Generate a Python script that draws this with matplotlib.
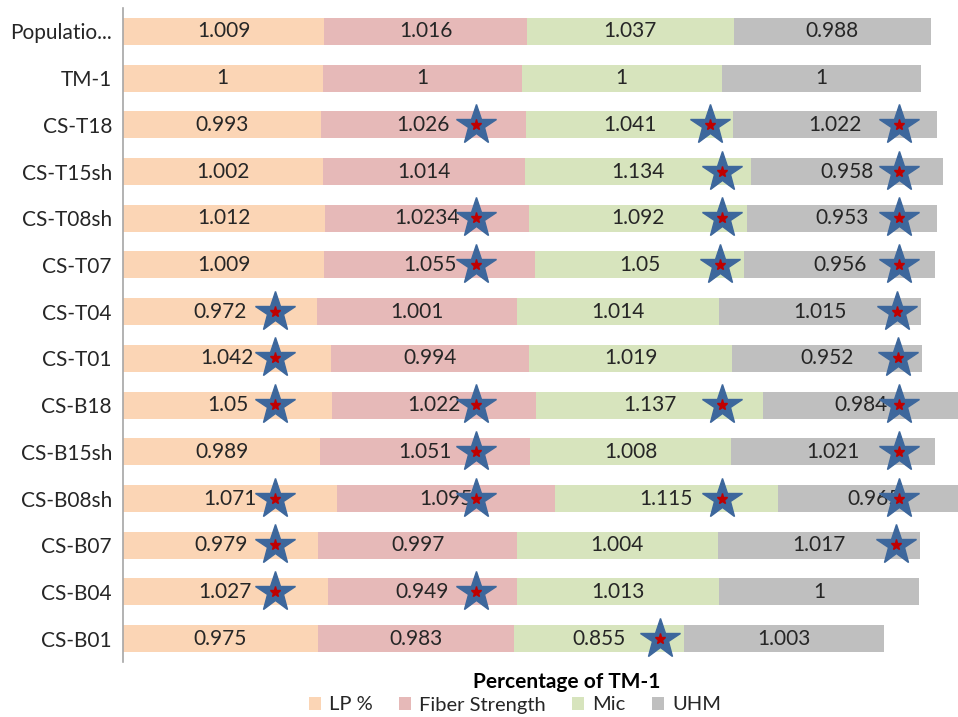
import numpy as np
import matplotlib.pyplot as plt

plt.rcParams["font.family"] = ["Lato", "DejaVu Sans"]

lines = ["Populatio...", "TM-1", "CS-T18", "CS-T15sh", "CS-T08sh", "CS-T07", "CS-T04",
         "CS-T01", "CS-B18", "CS-B15sh", "CS-B08sh", "CS-B07", "CS-B04", "CS-B01"]

lp = [1.009, 1, 0.993, 1.002, 1.012, 1.009, 0.972, 1.042, 1.05, 0.989, 1.071, 0.979, 1.027, 0.975]
fiber = [1.016, 1, 1.026, 1.014, 1.0234, 1.055, 1.001, 0.994, 1.022, 1.051, 1.095, 0.997, 0.949, 0.983]
mic = [1.037, 1, 1.041, 1.134, 1.092, 1.05, 1.014, 1.019, 1.137, 1.008, 1.115, 1.004, 1.013, 0.855]
uhm = [0.988, 1, 1.022, 0.958, 0.953, 0.956, 1.015, 0.952, 0.984, 1.021, 0.965, 1.017, 1, 1.003]

# significant differences from TM-1 (1 = marked with a star)
sig_lp = [0, 0, 0, 0, 0, 0, 1, 1, 1, 0, 1, 1, 1, 0]
sig_fiber = [0, 0, 1, 0, 1, 1, 0, 0, 1, 1, 1, 0, 1, 0]
sig_mic = [0, 0, 1, 1, 1, 1, 0, 0, 1, 0, 1, 0, 0, 1]
sig_uhm = [0, 0, 1, 1, 1, 1, 1, 1, 1, 1, 1, 1, 0, 0]

series = [("LP %", lp, "#fbd5b5", sig_lp),
          ("Fiber Strength", fiber, "#e6b9b8", sig_fiber),
          ("Mic", mic, "#d7e4bd", sig_mic),
          ("UHM", uhm, "#bfbfbf", sig_uhm)]
star_col = [0.76, 1.77, 3.0, 3.89]

fig = plt.figure(figsize=(9.58, 7.17), dpi=100)
ax = fig.add_axes([123 / 958, 0.0767, 1 - 123 / 958, 0.9121])

y = np.arange(len(lines))
left = np.zeros(len(lines))
for i, (name, vals, color, sig) in enumerate(series):
    vals = np.array(vals, dtype=float)
    ax.barh(y, vals, left=left, height=0.58, color=color, label=name)
    for j, v in enumerate(vals):
        ax.text(left[j] + v / 2, y[j], f"{v:g}", ha="center", va="center",
                fontsize=15, color="#262626")
    for j in np.flatnonzero(sig):
        sx = min(star_col[i], left[j] + vals[j] - 0.12)
        ax.plot(sx, y[j], marker="*", ms=30, color="#3d679c", mec="#3d679c", zorder=5)
        ax.plot(sx, y[j], marker="*", ms=8, color="#c00000", mec="#c00000", zorder=6)
    left += vals

ax.set_xlim(0, 835 / 199.5)
ax.set_ylim(len(lines) - 0.5, -0.5)
ax.set_yticks(y, lines)
ax.tick_params(axis="y", length=0, labelsize=15, labelcolor="#262626", pad=8)
ax.set_xticks([])
for s in ["top", "right", "bottom"]:
    ax.spines[s].set_visible(False)
ax.spines["left"].set_color("#a6a6a6")
ax.spines["left"].set_linewidth(1.2)

fig.text(567 / 958, 1 - 682 / 717, "Percentage of TM-1", ha="center", va="center",
         fontsize=15, fontweight="bold", color="#000000")
fig.legend(loc="center", bbox_to_anchor=(515 / 958, 1 - 705 / 717), ncol=4, frameon=False,
           fontsize=14.5, handlelength=0.6, handleheight=0.6, handletextpad=0.4,
           columnspacing=1.3, borderpad=0.1, labelcolor="#262626")

fig.savefig("out.png", dpi=100)
